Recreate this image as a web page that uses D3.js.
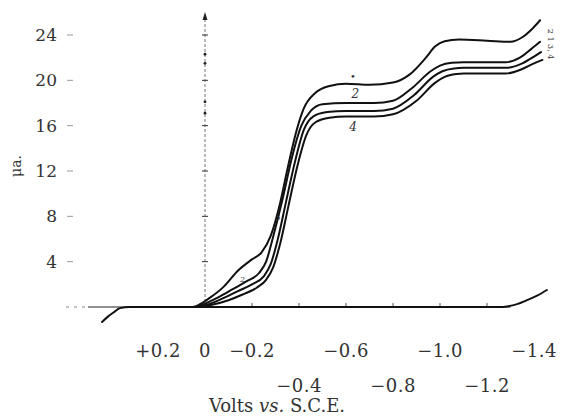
<!DOCTYPE html>
<html>
<head>
<meta charset="utf-8">
<script src="https://cdn.jsdelivr.net/npm/d3@7"></script>
<style>
  html, body { margin: 0; padding: 0; background: #fff; }
  svg { display: block; }
  text { font-family: "DejaVu Serif", "Liberation Serif", serif; fill: #333; }
</style>
</head>
<body>
<div id="chart"></div>
<script>
// Polarogram: current (microamps) vs. potential (volts vs. S.C.E.)

// ticks
var yTicks = [4, 8, 12, 16, 20, 24];
var xTicksTop = [0.2, 0, -0.2, -0.6, -1.0, -1.4];
var xTicksBottom = [-0.4, -0.8, -1.2];
var xTickLabelsTop = ['+0.2', '0', '\u22120.2', '\u22120.6', '\u22121.0', '\u22121.4'];
var xTickLabelsBottom = ['\u22120.4', '\u22120.8', '\u22121.2'];

// curves: [volts, microamps]
var curve1 = [[0.05,0],[0.03,0.15],[-0.02,0.8],[-0.08,1.8],[-0.14,3.2],[-0.2,4.2],[-0.24,4.8],
  [-0.28,6.3],[-0.32,9.2],[-0.35,12.1],[-0.39,15.6],[-0.42,17.5],[-0.47,18.9],[-0.53,19.5],
  [-0.6,19.7],[-0.7,19.6],[-0.8,19.8],[-0.87,20.5],[-0.94,22.0],[-0.98,23.0],[-1.02,23.45],
  [-1.08,23.6],[-1.2,23.5],[-1.3,23.4],[-1.35,23.8],[-1.395,24.6],[-1.426,25.3]];
var curve2 = [[0.04,0],[0.0,0.3],[-0.06,0.9],[-0.12,1.6],[-0.18,2.3],[-0.23,3.0],[-0.26,4.0],
  [-0.29,6.2],[-0.33,9.5],[-0.37,13.2],[-0.41,16.0],[-0.45,17.3],[-0.5,17.9],[-0.6,18.0],
  [-0.72,18.0],[-0.8,18.2],[-0.88,19.3],[-0.96,20.8],[-1.0,21.3],[-1.05,21.55],[-1.1,21.6],
  [-1.28,21.6],[-1.34,22.0],[-1.39,22.8],[-1.426,23.4]];
var curve3 = [[0.03,0],[-0.01,0.2],[-0.08,0.8],[-0.14,1.4],[-0.2,2.0],[-0.25,2.7],[-0.28,3.8],
  [-0.31,6.0],[-0.345,9.3],[-0.385,13.0],[-0.42,15.6],[-0.46,16.8],[-0.52,17.2],[-0.6,17.3],
  [-0.72,17.3],[-0.8,17.5],[-0.89,18.7],[-0.97,20.3],[-1.01,20.8],[-1.06,21.05],[-1.1,21.1],
  [-1.28,21.1],[-1.35,21.5],[-1.4,22.1],[-1.43,22.5]];
var curve4 = [[0.02,0],[-0.02,0.15],[-0.1,0.6],[-0.16,1.1],[-0.22,1.7],[-0.26,2.4],[-0.29,3.5],
  [-0.32,5.6],[-0.355,8.9],[-0.395,12.6],[-0.43,15.1],[-0.47,16.3],[-0.53,16.7],[-0.6,16.8],
  [-0.72,16.8],[-0.8,17.0],[-0.9,18.2],[-0.98,19.8],[-1.02,20.3],[-1.07,20.55],[-1.1,20.6],
  [-1.28,20.6],[-1.35,21.0],[-1.4,21.5],[-1.436,21.8]];
// residual current (supporting electrolyte)
var residual = [[0.438,-1.32],[0.413,-0.85],[0.387,-0.45],[0.362,-0.1],[0.32,0],[0.0,0],
  [-0.6,0],[-1.0,0],[-1.255,0],[-1.285,0.05],[-1.328,0.25],[-1.37,0.6],[-1.413,1.0],[-1.455,1.5]];

var width = 563, height = 420;

var x = d3.scaleLinear().domain([0, -1.4]).range([205, 534]);
var y = d3.scaleLinear().domain([0, 24]).range([307, 35]);

var svg = d3.select('#chart').append('svg')
    .attr('width', width)
    .attr('height', height);

// --- zero line ---
svg.append('line')
    .attr('x1', 88).attr('x2', x(-1.3))
    .attr('y1', y(0)).attr('y2', y(0))
    .attr('stroke', '#222').attr('stroke-width', 1.2);
svg.append('line')
    .attr('x1', 66).attr('x2', 88)
    .attr('y1', y(0)).attr('y2', y(0))
    .attr('stroke', '#888').attr('stroke-width', 1)
    .attr('stroke-dasharray', '3,5');

// small ticks on the zero line
svg.append('g').selectAll('line')
    .data([-0.2, -0.4, -0.6, -0.8, -1.0, -1.2])
    .join('line')
    .attr('x1', function (d) { return x(d); })
    .attr('x2', function (d) { return x(d); })
    .attr('y1', y(0)).attr('y2', y(0) - 4)
    .attr('stroke', '#555').attr('stroke-width', 1);

// --- vertical axis at 0 V (dashed) ---
svg.append('line')
    .attr('x1', x(0)).attr('x2', x(0))
    .attr('y1', y(0)).attr('y2', 18)
    .attr('stroke', '#777').attr('stroke-width', 1)
    .attr('stroke-dasharray', '3,2');
svg.append('path')
    .attr('d', 'M' + x(0) + ',12 L' + (x(0) - 2.5) + ',20 L' + (x(0) + 2.5) + ',20 Z')
    .attr('fill', '#222');
svg.append('g').selectAll('line')
    .data(yTicks)
    .join('line')
    .attr('x1', x(0) - 3).attr('x2', x(0) + 3)
    .attr('y1', function (d) { return y(d); })
    .attr('y2', function (d) { return y(d); })
    .attr('stroke', '#333').attr('stroke-width', 1);
svg.append('g').selectAll('circle')
    .data([22.3, 21.5, 18.1, 17.1])
    .join('circle')
    .attr('cx', x(0)).attr('cy', function (d) { return y(d); })
    .attr('r', 1.4).attr('fill', '#222');

// --- y ticks on the left ---
var yAxis = svg.append('g');
yAxis.selectAll('line')
    .data(yTicks)
    .join('line')
    .attr('x1', 67).attr('x2', 73)
    .attr('y1', function (d) { return y(d); })
    .attr('y2', function (d) { return y(d); })
    .attr('stroke', '#999').attr('stroke-width', 1);
yAxis.selectAll('text')
    .data(yTicks)
    .join('text')
    .attr('x', 57)
    .attr('y', function (d) { return y(d) + 6; })
    .attr('text-anchor', 'end')
    .attr('font-size', '17px')
    .attr('fill', '#3a3a3a')
    .text(function (d) { return d; });

svg.append('text')
    .attr('transform', 'translate(21,' + (y(12) - 5) + ') rotate(-90)')
    .attr('text-anchor', 'middle')
    .attr('font-size', '14px')
    .text('\u03bca.');

// --- x tick labels (two staggered rows) ---
svg.append('g').selectAll('text')
    .data(xTicksTop)
    .join('text')
    .attr('x', function (d) { return x(d); })
    .attr('y', 357)
    .attr('text-anchor', 'middle')
    .attr('font-size', '18px')
    .attr('letter-spacing', '0.5px')
    .attr('fill', '#3a3a3a')
    .text(function (d, i) { return xTickLabelsTop[i]; });
svg.append('g').selectAll('text')
    .data(xTicksBottom)
    .join('text')
    .attr('x', function (d) { return x(d); })
    .attr('y', 392)
    .attr('text-anchor', 'middle')
    .attr('font-size', '18px')
    .attr('letter-spacing', '0.5px')
    .attr('fill', '#3a3a3a')
    .text(function (d, i) { return xTickLabelsBottom[i]; });

var title = svg.append('text')
    .attr('x', 277).attr('y', 412)
    .attr('text-anchor', 'middle')
    .attr('font-size', '18px')
    .attr('fill', '#3a3a3a');
title.append('tspan').text('Volts ');
title.append('tspan').attr('font-style', 'italic').text('vs.');
title.append('tspan').text(' S.C.E.');

// --- curves ---
var line = d3.line()
    .x(function (d) { return x(d[0]); })
    .y(function (d) { return y(d[1]); })
    .curve(d3.curveMonotoneX);

svg.append('g').selectAll('path')
    .data([residual, curve4, curve3, curve2, curve1])
    .join('path')
    .attr('d', line)
    .attr('fill', 'none')
    .attr('stroke', '#111')
    .attr('stroke-width', 2)
    .attr('stroke-linecap', 'round');

// --- curve labels ---
svg.append('text').attr('x', x(-0.63)).attr('y', y(20.0))
    .attr('text-anchor', 'middle').attr('font-size', '10px').text('\u2022');
svg.append('text').attr('x', x(-0.64)).attr('y', y(18.4))
    .attr('text-anchor', 'middle').attr('font-size', '12px').attr('font-style', 'italic').text('2');
svg.append('text').attr('x', x(-0.63)).attr('y', y(15.5))
    .attr('text-anchor', 'middle').attr('font-size', '12px').attr('font-style', 'italic').text('4');
svg.append('text').attr('x', x(-0.16)).attr('y', y(2.2))
    .attr('text-anchor', 'middle').attr('font-size', '8px').attr('font-style', 'italic').text('2');
svg.append('text').attr('x', x(-0.31)).attr('y', y(7.7))
    .attr('text-anchor', 'middle').attr('font-size', '8px').attr('fill', '#777').text('3');
svg.append('text')
    .attr('transform', 'translate(' + (x(-1.46)) + ',' + y(23.2) + ') rotate(90)')
    .attr('text-anchor', 'middle')
    .attr('font-size', '8px')
    .text('2 1 3, 4');
</script>
</body>
</html>
